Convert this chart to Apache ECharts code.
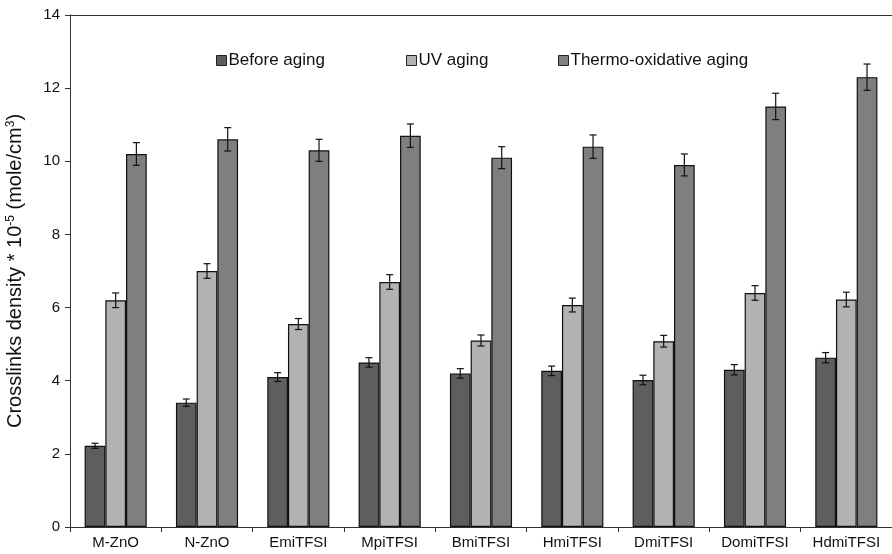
<!DOCTYPE html>
<html>
<head>
<meta charset="utf-8">
<script src="https://cdn.jsdelivr.net/npm/echarts@6/dist/echarts.min.js"></script>
<style>
  html, body { margin: 0; padding: 0; background: #fff; }
  #main { width: 892px; height: 554px; }
</style>
</head>
<body>
<div id="main"></div>
<script>
var categories = ['M-ZnO', 'N-ZnO', 'EmiTFSI', 'MpiTFSI', 'BmiTFSI', 'HmiTFSI', 'DmiTFSI', 'DomiTFSI', 'HdmiTFSI'];
var seriesNames = ['Before aging', 'UV aging', 'Thermo-oxidative aging'];
var beforeAging = [2.22, 3.4, 4.1, 4.5, 4.2, 4.27, 4.02, 4.3, 4.63];
var beforeErr = [0.07, 0.1, 0.12, 0.13, 0.13, 0.13, 0.13, 0.14, 0.14];
var uvAging = [6.2, 7.0, 5.55, 6.7, 5.1, 6.07, 5.08, 6.4, 6.22];
var uvErr = [0.2, 0.2, 0.15, 0.2, 0.15, 0.19, 0.16, 0.2, 0.2];
var thermoAging = [10.2, 10.6, 10.3, 10.7, 10.1, 10.4, 9.9, 11.5, 12.3];
var thermoErr = [0.31, 0.32, 0.3, 0.32, 0.3, 0.32, 0.3, 0.36, 0.36];
var yTicks = [0, 2, 4, 6, 8, 10, 12, 14];

var colors = ['#5e5e5e', '#b2b2b2', '#7f7f7f'];
var catGap = 0.32;

var myChart = echarts.init(document.getElementById('main'));

// 误差线
function errorSeries(idx, values, errs) {
    return {
        type: 'custom',
        name: seriesNames[idx] + ' err',
        z: 10,
        data: values.map(function (v, i) { return [i, v - errs[i], v + errs[i]]; }),
        renderItem: function (params, api) {
            var band = api.size([1, 0])[0];
            var bw = band * (1 - catGap) / 3;
            var x = api.coord([api.value(0), 0])[0] + (idx - 1) * bw;
            var lo = api.coord([api.value(0), api.value(1)])[1];
            var hi = api.coord([api.value(0), api.value(2)])[1];
            var style = { stroke: '#111', lineWidth: 1.2 };
            return {
                type: 'group',
                children: [
                    { type: 'line', shape: { x1: x, y1: lo, x2: x, y2: hi }, style: style },
                    { type: 'line', shape: { x1: x - 3.5, y1: lo, x2: x + 3.5, y2: lo }, style: style },
                    { type: 'line', shape: { x1: x - 3.5, y1: hi, x2: x + 3.5, y2: hi }, style: style }
                ]
            };
        }
    };
}

function barSeries(idx, values) {
    return {
        type: 'bar',
        name: seriesNames[idx],
        data: values,
        barGap: '0%',
        barCategoryGap: (catGap * 100) + '%',
        itemStyle: { color: colors[idx], borderColor: '#111', borderWidth: 1.2 }
    };
}

function legendAt(name, left) {
    return {
        data: [name],
        left: left,
        top: 47,
        itemWidth: 10,
        itemHeight: 10,
        itemGap: 0,
        icon: 'rect',
        itemStyle: { borderColor: '#222', borderWidth: 1 },
        textStyle: { fontFamily: 'Liberation Sans', fontSize: 17, color: '#111', padding: [0, 0, 0, -3] }
    };
}

myChart.setOption({
    animation: false,
    grid: { left: 70, right: 0, top: 15, bottom: 27, outerBoundsMode: 'none' },
    legend: [
        legendAt(seriesNames[0], 211),
        legendAt(seriesNames[1], 401),
        legendAt(seriesNames[2], 553)
    ],
    xAxis: [{
        type: 'category',
        data: categories,
        axisLine: { lineStyle: { color: '#333' } },
        axisTick: { show: true, length: 5, lineStyle: { color: '#333' } },
        axisLabel: { fontFamily: 'Liberation Sans', fontSize: 15, color: '#111', margin: 8 }
    }, {
        type: 'category',
        position: 'top',
        data: categories,
        axisLine: { show: true, lineStyle: { color: '#333' } },
        axisTick: { show: false },
        axisLabel: { show: false }
    }],
    yAxis: {
        type: 'value',
        min: yTicks[0],
        max: yTicks[yTicks.length - 1],
        interval: 2,
        splitLine: { show: false },
        axisLine: { show: true, lineStyle: { color: '#333' } },
        axisTick: { show: true, length: 5, lineStyle: { color: '#333' } },
        axisLabel: { fontFamily: 'Liberation Sans', fontSize: 15, color: '#111', margin: 10 },
        name: '{t|Crosslinks density * 10}{s|-5}{t| (mole/cm}{s|3}{t|)}',
        nameLocation: 'middle',
        nameGap: 44,
        nameRotate: 90,
        nameTextStyle: {
            rich: {
                t: { fontFamily: 'Liberation Sans', fontSize: 20, color: '#111' },
                s: { fontFamily: 'Liberation Sans', fontSize: 12, color: '#111', verticalAlign: 'top', padding: [0, 0, 9, 0] }
            }
        }
    },
    series: [
        barSeries(0, beforeAging),
        barSeries(1, uvAging),
        barSeries(2, thermoAging),
        errorSeries(0, beforeAging, beforeErr),
        errorSeries(1, uvAging, uvErr),
        errorSeries(2, thermoAging, thermoErr)
    ]
});
</script>
</body>
</html>
